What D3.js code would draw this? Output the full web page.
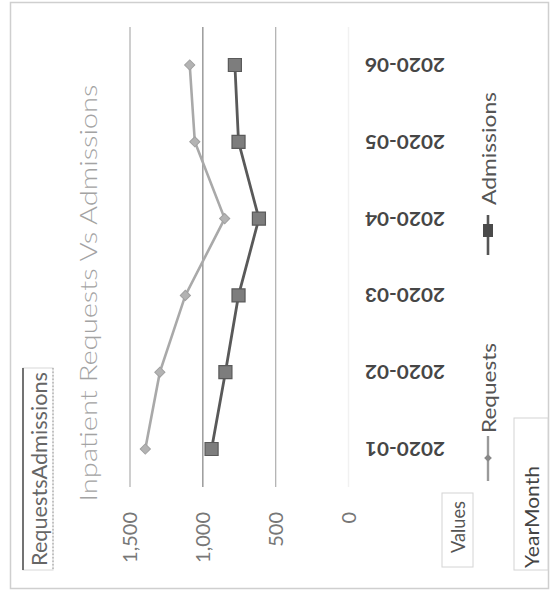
<!DOCTYPE html>
<html><head><meta charset="utf-8">
<script src="https://cdn.jsdelivr.net/npm/d3@7"></script>
<style>body{margin:0;background:#fff}svg{display:block}</style>
</head><body>
<svg id="chart" width="551" height="592"></svg>
<script>
const categories = ["2020-01","2020-02","2020-03","2020-04","2020-05","2020-06"];
const requests = [1395, 1295, 1120, 850, 1055, 1090];
const admissions = [940, 845, 755, 615, 755, 780];
const valueTicks = [0, 500, 1000, 1500];
const tickLabels = ["0", "500", "1,000", "1,500"];
const seriesNames = ["Requests", "Admissions"];
const chartTitle = "Inpatient Requests Vs Admissions";
const fieldButtons = ["RequestsAdmissions", "Values", "YearMonth"];

const FONT = "Lato, 'Open Sans', sans-serif";
const svg = d3.select("#chart");

// chart is rotated 90deg counter-clockwise: values run right->left, categories bottom->top
const x = d3.scaleLinear().domain([0, 1500]).range([348.5, 130]);
const y = d3.scalePoint().domain(categories).range([449, 65]);
const gridTop = 27, gridBottom = 487;

// outer frame
svg.append("rect").attr("x", 10.5).attr("y", 2.5).attr("width", 538).attr("height", 586)
  .attr("fill", "#fff").attr("stroke", "#cfcfcf").attr("stroke-width", 1.5);

function vtext(px, py, txt, opts) {
  const t = svg.append("text")
    .attr("transform", `translate(${px},${py}) rotate(${opts.rot || -90})`)
    .attr("text-anchor", opts.anchor || "middle")
    .attr("dominant-baseline", opts.baseline || "alphabetic")
    .attr("font-family", FONT)
    .attr("font-size", opts.size)
    .attr("font-weight", opts.weight || 400)
    .attr("fill", opts.fill)
    .text(txt);
  if (opts.len) t.attr("textLength", opts.len).attr("lengthAdjust", "spacingAndGlyphs");
  return t;
}

// field button: RequestsAdmissions
svg.append("rect").attr("x", 23).attr("y", 368).attr("width", 30).attr("height", 202)
  .attr("fill", "#fff").attr("stroke", "#d8d8d8").attr("stroke-width", 1);
svg.append("line").attr("x1", 53).attr("x2", 53).attr("y1", 368).attr("y2", 570)
  .attr("stroke", "#999").attr("stroke-dasharray", "1.5,2");
svg.append("line").attr("x1", 23).attr("x2", 23).attr("y1", 368).attr("y2", 570)
  .attr("stroke", "#555").attr("stroke-width", 1.6);
vtext(47, 469, fieldButtons[0], {size: 21, fill: "#666", len: 194});

// title
vtext(97, 293, chartTitle, {size: 24, fill: "#a3a3a3", weight: 300, len: 417});

// gridlines
svg.append("g").selectAll("line").data(valueTicks.filter(v => v > 0)).join("line")
  .attr("x1", d => x(d)).attr("x2", d => x(d))
  .attr("y1", gridTop).attr("y2", gridBottom)
  .attr("stroke", d => d === 1000 ? "#8c8c8c" : "#b4b4b4").attr("stroke-width", 1.3);
// faint category axis line
svg.append("line").attr("x1", x(0)).attr("x2", x(0)).attr("y1", gridTop).attr("y2", gridBottom)
  .attr("stroke", "#f1f1f1").attr("stroke-width", 1.5);

// value tick labels
valueTicks.forEach((v, i) => {
  vtext(x(v) - 1, 512, tickLabels[i], {size: 20, fill: "#777", anchor: "end", baseline: "central"});
});

// category labels (upside down)
categories.forEach(c => {
  vtext(405, y(c), c, {size: 18, weight: 700, fill: "#464646", rot: 180, baseline: "central", len: 80});
});

// series lines
const line = d3.line().x(d => x(d.v)).y(d => y(d.c));
const reqData = categories.map((c, i) => ({c, v: requests[i]}));
const admData = categories.map((c, i) => ({c, v: admissions[i]}));

svg.append("path").datum(reqData).attr("d", line)
  .attr("fill", "none").attr("stroke", "#a9a9a9").attr("stroke-width", 2.6);
svg.append("path").datum(admData).attr("d", line)
  .attr("fill", "none").attr("stroke", "#595959").attr("stroke-width", 2.8);

const diamond = d3.symbol(d3.symbolSquare, 52);
svg.append("g").selectAll("path").data(reqData).join("path")
  .attr("d", diamond)
  .attr("transform", d => `translate(${x(d.v)},${y(d.c)}) rotate(45)`)
  .attr("fill", "#b3b3b3").attr("stroke", "#a0a0a0").attr("stroke-width", 1);

const square = d3.symbol(d3.symbolSquare, 170);
svg.append("g").selectAll("path").data(admData).join("path")
  .attr("d", square)
  .attr("transform", d => `translate(${x(d.v)},${y(d.c)})`)
  .attr("fill", "#7d7d7d").attr("stroke", "#5a5a5a").attr("stroke-width", 1.2);

// legend
svg.append("line").attr("x1", 488).attr("x2", 488).attr("y1", 436).attr("y2", 481)
  .attr("stroke", "#9a9a9a").attr("stroke-width", 2.4);
svg.append("path").attr("d", d3.symbol(d3.symbolSquare, 30))
  .attr("transform", "translate(488,458) rotate(45)").attr("fill", "#888");
vtext(496, 433, seriesNames[0], {size: 20, fill: "#555", anchor: "start", len: 90});

svg.append("line").attr("x1", 488).attr("x2", 488).attr("y1", 215).attr("y2", 255)
  .attr("stroke", "#555").attr("stroke-width", 2.6);
svg.append("rect").attr("x", 483).attr("y", 224).attr("width", 10).attr("height", 13).attr("fill", "#4a4a4a");
vtext(496, 205, seriesNames[1], {size: 20, fill: "#555", anchor: "start", len: 113});

// Values button
svg.append("rect").attr("x", 442).attr("y", 493).attr("width", 31).attr("height", 74)
  .attr("fill", "#fff").attr("stroke", "#d4d4d4");
vtext(465, 553, fieldButtons[1], {size: 19, fill: "#555", anchor: "start", len: 52});

// YearMonth button
svg.append("rect").attr("x", 514).attr("y", 418).attr("width", 34).attr("height", 152)
  .attr("fill", "#fff").attr("stroke", "#d4d4d4");
vtext(539, 568, fieldButtons[2], {size: 20, fill: "#444", anchor: "start", len: 102});
</script>
</body></html>
